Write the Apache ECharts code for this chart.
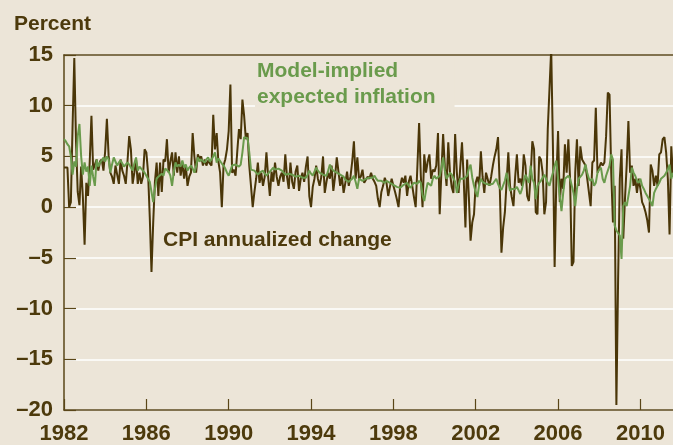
<!DOCTYPE html>
<html>
<head>
<meta charset="utf-8">
<script src="https://cdn.jsdelivr.net/npm/echarts@6/dist/echarts.min.js"></script>
<style>
html, body { margin: 0; padding: 0; background: #ece5d8; }
#chart { width: 673px; height: 445px; }
</style>
</head>
<body>
<div id="chart"></div>
<script>
var startYear = 1982;
var tickYears = [1982, 1986, 1990, 1994, 1998, 2002, 2006, 2010];

// CPI annualized change, monthly, Jan 1982 - Aug 2011
var cpiChange = [
	3.9, 3.9, 3.9, 0, 0.5, 8, 14.7, 6.5, 1.5, 0.2, 4.0, 1.0,        // 1982
	-3.7, 2.4, 1.1, 4.5, 9.0, 3.7, 4.2, 4.7, 3.6, 4.5, 4.7, 3.6,    // 1983
	5.5, 8.7, 5.1, 3.4, 3.0, 2.3, 4.1, 3.2, 2.3, 4.7, 3.6, 3.1,     // 1984
	2.3, 4.5, 7.0, 5.7, 2.3, 3.4, 4.7, 2.3, 3.4, 2.3, 3.0, 5.7,     // 1985
	5.4, 3.4, -1.0, -6.4, -1.5, 2.5, 4.4, 1.1, 4.4, 1.5, 4.7, 4.5,  // 1986
	6.7, 3.4, 4.5, 5.4, 3.1, 5.4, 3.4, 5.0, 3.1, 4.4, 2.8, 4.1,     // 1987
	2.1, 3.0, 3.4, 7.3, 5.0, 3.4, 5.2, 4.8, 5.0, 4.1, 4.7, 4.1,     // 1988
	4.6, 4.3, 4.1, 9.1, 5.7, 7.3, 4.5, 3.4, 0, 4.1, 4.7, 5.7,       // 1989
	7.5, 12.1, 3.4, 3.7, 3.1, 5.5, 7.7, 6.7, 10.6, 9.0, 6.7, 7.3,   // 1990
	4.1, 2.1, 0, 1.5, 2.8, 4.4, 2.4, 3.4, 2.1, 3.0, 5.4, 3.0,       // 1991
	1.1, 3.5, 2.5, 4.4, 3.0, 2.1, 3.0, 3.4, 2.5, 5.2, 3.0, 1.8,     // 1992
	4.4, 2.5, 1.8, 3.5, 4.1, 1.6, 2.8, 3.4, 2.5, 4.0, 5.0, 1.1,     // 1993
	0, 2.0, 2.8, 4.1, 2.8, 2.1, 3.0, 5.0, 1.4, 2.5, 3.4, 2.8,       // 1994
	4.1, 1.6, 3.0, 4.9, 3.5, 2.1, 3.0, 1.4, 2.4, 3.5, 2.1, 3.0,     // 1995
	4.5, 6.5, 2.8, 4.9, 2.8, 3.0, 3.7, 2.4, 2.4, 3.0, 2.8, 3.4,     // 1996
	2.8, 2.5, 2.1, 0.8, 0, 1.5, 2.1, 2.9, 2.4, 1.1, 2.0, 2.8,       // 1997
	2.1, 1.5, 0.8, 0, 2.1, 2.9, 2.4, 3.1, 1.1, 2.5, 3.1, 2.1,       // 1998
	1.0, 0, 4.0, 8.3, 3.1, 0, 5.2, 3.4, 4.5, 5.2, 2.8, 3.7,         // 1999
	3.5, 4.1, 7.3, -0.7, 3.5, 7.2, 4.0, 2.1, 6.4, 3.4, 2.0, 1.4,    // 2000
	7.2, 3.4, 1.4, 4.0, 6.4, 2.8, -2.0, 4.7, 1.0, -3.3, -1.5, -0.7, // 2001
	2.4, 3.0, 2.1, 5.5, 3.0, 1.4, 3.4, 3.4, 2.1, 3.0, 4.1, 5.0,     // 2002
	5.7, 6.9, 2.1, -4.5, -2.0, -0.5, 2.5, 5.4, 2.1, 1.0, 0.1, 3.0,  // 2003
	5.2, 2.4, 2.8, 2.1, 5.2, 4.1, 1.1, 0.6, 3.1, 6.5, 5.7, -0.5,    // 2004
	-0.7, 5.0, 4.7, 3.4, -0.7, 0.5, 7.7, 7.8, 15.6, 6.0, -5.9, 2.8, // 2005
	7.5, 0.5, 2.8, 1.8, 6.2, 3.4, 6.7, 2.8, -5.8, -5.4, 3.4, 6.7,   // 2006
	2.1, 6.0, 4.7, 4.7, 4.1, 2.8, 2.8, 0.1, 4.4, 4.6, 9.8, 3.4,     // 2007
	3.4, 4.4, 4.1, 4.4, 7.0, 11.3, 11.1, 3.4, -1.5, 2.1, -19.5, -7.1, // 2008
	2.8, 5.7, -3.1, 0.8, 4.1, 8.5, 3.4, 4.1, 2.1, 2.8, 1.4, 2.8,    // 2009
	1.8, 0.5, 0.1, -0.5, -1.3, -2.5, 4.2, 3.6, 2.1, 3.1, 2.1, 5.2,  // 2010
	5.4, 6.7, 6.9, 5.4, 2.8, -2.7, 6.0, 3.0                         // 2011
];

// Model-implied expected inflation, monthly
var expectedInflation = [
	6.7, 6.5, 6.2, 6.0, 5.0, 3.2, 4.5, 4.0, 7.0, 8.2, 5.0, 3.2,     // 1982
	4.4, 3.5, 4.0, 2.1, 4.1, 3.0, 2.1, 4.7, 4.0, 4.4, 4.6, 4.9,     // 1983
	4.5, 5.0, 4.7, 3.4, 4.2, 4.9, 4.5, 4.1, 4.4, 4.6, 4.3, 4.0,     // 1984
	4.1, 4.4, 4.2, 3.9, 3.6, 4.3, 4.9, 3.6, 4.0, 3.9, 3.6, 3.4,     // 1985
	3.3, 2.8, 2.5, 1.5, 0.5, 1.8, 2.8, 3.0, 3.1, 3.3, 3.1, 3.8,     // 1986
	3.9, 3.5, 3.1, 2.1, 3.5, 4.4, 4.0, 4.2, 4.0, 4.6, 3.9, 4.2,     // 1987
	3.6, 3.9, 4.1, 3.8, 3.4, 4.0, 4.9, 4.5, 4.7, 4.6, 4.4, 4.7,     // 1988
	4.9, 4.5, 4.7, 5.0, 5.4, 4.4, 4.8, 4.7, 4.3, 4.1, 3.8, 3.4,     // 1989
	3.1, 3.6, 4.1, 4.0, 4.2, 4.1, 4.0, 4.2, 5.4, 6.9, 7.0, 6.8,     // 1990
	5.4, 3.7, 3.8, 3.6, 3.4, 3.2, 3.4, 3.5, 3.6, 3.3, 3.1, 3.3,     // 1991
	3.4, 3.7, 3.9, 3.7, 3.6, 3.8, 3.9, 3.6, 3.4, 3.2, 3.1, 3.3,     // 1992
	3.4, 3.2, 3.1, 3.0, 2.9, 3.1, 3.1, 2.9, 2.8, 2.9, 3.2, 3.6,     // 1993
	3.3, 3.1, 3.5, 3.9, 3.6, 3.4, 3.3, 3.2, 3.1, 3.1, 3.6, 4.2,     // 1994
	3.8, 3.6, 3.5, 3.4, 3.3, 3.2, 3.1, 3.0, 2.7, 2.6, 2.5, 2.4,     // 1995
	2.8, 3.1, 2.5, 1.8, 2.8, 2.7, 2.6, 2.6, 2.8, 2.9, 2.9, 2.8,     // 1996
	2.9, 3.1, 2.8, 2.6, 2.7, 2.6, 2.5, 2.4, 2.6, 2.5, 2.4, 2.4,     // 1997
	2.2, 2.1, 2.0, 1.9, 1.9, 1.8, 2.2, 2.3, 2.4, 2.1, 1.9, 2.2,     // 1998
	2.4, 2.3, 2.3, 2.6, 2.4, 1.2, 0.6, 1.6, 2.4, 2.3, 2.1, 2.8,     // 1999
	3.1, 2.8, 2.9, 3.1, 3.9, 4.9, 3.6, 2.8, 3.1, 3.4, 3.2, 3.1,     // 2000
	2.5, 1.4, 2.2, 2.8, 2.9, 2.8, 2.9, 3.1, 3.8, 4.2, 2.9, 2.1,     // 2001
	1.5, 1.0, 2.2, 2.8, 2.5, 2.4, 2.3, 2.3, 2.2, 2.1, 2.3, 2.4,     // 2002
	2.8, 2.3, 1.9, 1.7, 1.6, 2.6, 3.4, 2.5, 1.6, 1.8, 1.9, 1.8,     // 2003
	2.0, 1.9, 1.3, 1.8, 2.6, 3.2, 2.8, 2.4, 4.1, 2.8, 2.4, 0.8,     // 2004
	2.1, 2.4, 2.6, 2.9, 3.2, 2.8, 2.4, 2.1, 2.8, 3.4, 4.1, 4.6,     // 2005
	2.8, 1.1, -0.4, 1.4, 2.8, 2.9, 3.1, 2.8, 2.1, 1.4, 0.1, 1.8,    // 2006
	2.8, 2.8, 3.2, 3.6, 4.2, 3.4, 2.8, 2.6, 2.8, 2.1, 2.4, 3.4,     // 2007
	3.7, 3.9, 2.8, 2.4, 3.1, 3.6, 4.1, 5.2, 4.7, -1.8, -2.3, -2.2,  // 2008
	-2.8, -5.1, 0.1, 0.5, 0.1, 1.1, 2.1, 3.9, 3.4, 3.1, 2.6, 2.4,   // 2009
	2.8, 2.1, 1.8, 1.4, 1.1, 1.1, 0.5, 0.1, 1.4, 1.8, 2.1, 2.4,     // 2010
	2.8, 2.8, 3.1, 3.4, 3.7, 4.2, 2.8, 3.4                          // 2011
];

var textColor = '#4d3a0c';
var cpiColor = '#4a3608';
var greenColor = '#6a9b4c';
var axisColor = '#5a4618';
var bgColor = '#ece5d8';
var fontName = '"Liberation Sans", Arial, sans-serif';

var months = [];
for (var i = 0; i < cpiChange.length; i++) {
	var y = startYear + Math.floor(i / 12);
	var m = (i % 12) + 1;
	months.push(y + '-' + (m < 10 ? '0' + m : m));
}

function isTickMonth(index) {
	var y = startYear + Math.floor(index / 12);
	return index % 12 === 0 && tickYears.indexOf(y) > -1;
}

var chart = echarts.init(document.getElementById('chart'));
chart.setOption({
	backgroundColor: bgColor,
	animation: false,
	title: {
		text: 'Percent',
		left: 9,
		top: 9,
		textStyle: { color: textColor, fontSize: 21, fontWeight: 'bold', fontFamily: fontName }
	},
	grid: { left: 64, right: 0, top: 55, bottom: 34, containLabel: false },
	xAxis: [{
		type: 'category',
		data: months,
		boundaryGap: false,
		position: 'bottom',
		axisLine: { onZero: false, lineStyle: { color: axisColor, width: 1.5 } },
		axisTick: { inside: true, length: 11, interval: function(index) { return isTickMonth(index); }, lineStyle: { color: axisColor, width: 1.2 } },
		axisLabel: {
			interval: function(index) { return isTickMonth(index); },
			formatter: function(v) { return v.substring(0, 4); },
			color: textColor, fontSize: 22, fontWeight: 'bold', fontFamily: fontName, margin: 13
		},
		splitLine: { show: false }
	}, {
		type: 'category',
		data: months,
		boundaryGap: false,
		position: 'top',
		axisLine: { onZero: false, lineStyle: { color: axisColor, width: 1.5 } },
		axisTick: { show: false },
		axisLabel: { show: false },
		splitLine: { show: false }
	}],
	yAxis: {
		type: 'value',
		min: -20,
		max: 15,
		interval: 5,
		axisLine: { show: true, onZero: false, lineStyle: { color: axisColor, width: 1.5 } },
		axisTick: { show: true, inside: true, length: 12, lineStyle: { color: axisColor, width: 1.2 } },
		axisLabel: {
			formatter: function(v) { return v < 0 ? '\u2013' + Math.abs(v) : String(v); },
			color: textColor, fontSize: 22, fontWeight: 'bold', fontFamily: fontName, margin: 11
		},
		splitLine: { lineStyle: { color: '#ffffff', width: 1.5 } }
	},
	series: [{
		name: 'CPI annualized change',
		type: 'line',
		data: cpiChange,
		showSymbol: false,
		lineStyle: { color: cpiColor, width: 2 },
		z: 3
	}, {
		name: 'Model-implied expected inflation',
		type: 'line',
		data: expectedInflation,
		showSymbol: false,
		lineStyle: { color: greenColor, width: 2 },
		z: 4
	}],
	graphic: [{
		type: 'text',
		x: 255,
		y: 58,
		z: 10,
		style: {
			text: 'Model-implied\nexpected inflation',
			fill: greenColor,
			font: 'bold 21px ' + fontName,
			lineHeight: 26,
			backgroundColor: bgColor,
			padding: [0, 19, 0, 2]
		}
	}, {
		type: 'text',
		x: 163,
		y: 228,
		z: 10,
		style: {
			text: 'CPI annualized change',
			fill: textColor,
			font: 'bold 21px ' + fontName,
			lineHeight: 24
		}
	}]
});
</script>
</body>
</html>
